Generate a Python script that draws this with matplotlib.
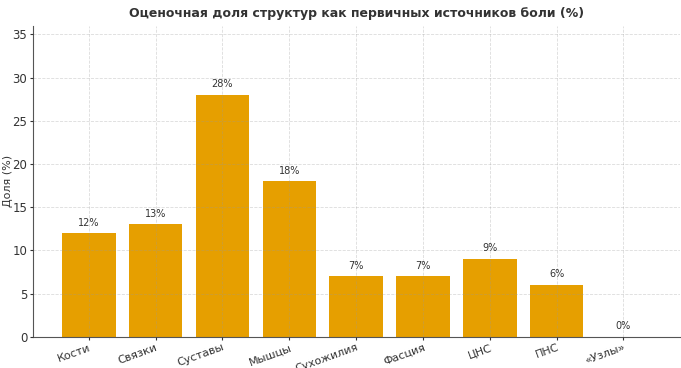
import matplotlib.pyplot as plt

categories = ["Кости", "Связки", "Суставы", "Мышцы", "Сухожилия", "Фасция", "ЦНС", "ПНС", "«Узлы»"]
shares = [12, 13, 28, 18, 7, 7, 9, 6, 0]

fig, ax = plt.subplots(figsize=(6.81, 3.68), dpi=100)

bars = ax.bar(categories, shares, color="#E69F00", width=0.8)

# value labels above bars
for rect, v in zip(bars, shares):
    ax.annotate(f"{v}%", (rect.get_x() + rect.get_width() / 2, rect.get_height()),
                xytext=(0, 4), textcoords="offset points",
                ha="center", va="bottom", fontsize=7, color="#333333")

ax.set_ylim(0, 36)
ax.set_ylabel("Доля (%)", fontsize=8, color="#333333")
ax.yaxis.set_label_coords(-0.031, 0.5)
ax.set_title("Оценочная доля структур как первичных источников боли (%)",
             fontsize=9, fontweight="bold", color="#333333")

ax.grid(True, linestyle="--", color="#999999", linewidth=0.6, alpha=0.35)
ax.set_axisbelow(False)
for s in ["top", "right"]:
    ax.spines[s].set_visible(False)
for s in ["left", "bottom"]:
    ax.spines[s].set_color("#555555")
ax.tick_params(axis="y", labelsize=8.5, colors="#333333", length=2, pad=2)
ax.tick_params(axis="x", labelsize=8, colors="#333333", length=2, pad=2)
plt.setp(ax.get_xticklabels(), rotation=20, ha="right", rotation_mode="anchor")

fig.subplots_adjust(left=0.048, right=0.998, top=0.93, bottom=0.085)
fig.savefig("out.png", dpi=100)
